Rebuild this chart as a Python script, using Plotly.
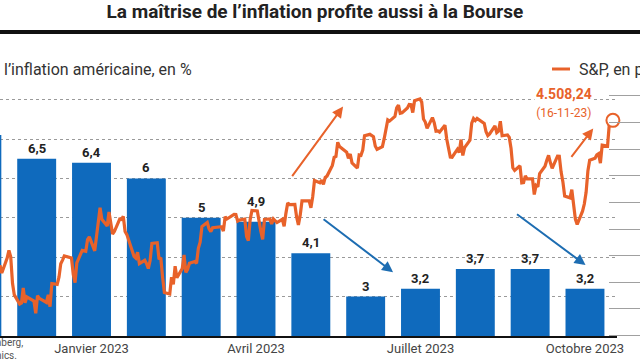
import plotly.graph_objects as go

# ---------------- DATA ----------------
months = ["2022-11", "2022-12", "2023-01", "2023-02", "2023-03", "2023-04",
          "2023-05", "2023-06", "2023-07", "2023-08", "2023-09", "2023-10"]
inflation = [7.1, 6.5, 6.4, 6.0, 5.0, 4.9, 4.1, 3.0, 3.2, 3.7, 3.7, 3.2]

tick_months = ["2023-01", "2023-04", "2023-07", "2023-10"]
tick_labels = ["Janvier 2023", "Avril 2023", "Juillet 2023", "Octobre 2023"]

sp_dates = [
    "2022-12-05", "2022-12-06", "2022-12-07", "2022-12-08", "2022-12-09", "2022-12-12", "2022-12-13",
    "2022-12-14", "2022-12-15", "2022-12-16", "2022-12-19", "2022-12-20", "2022-12-21", "2022-12-22",
    "2022-12-23", "2022-12-27", "2022-12-28", "2022-12-29", "2022-12-30",
    "2023-01-03", "2023-01-04", "2023-01-05", "2023-01-06", "2023-01-09", "2023-01-10", "2023-01-11",
    "2023-01-12", "2023-01-13", "2023-01-17", "2023-01-18", "2023-01-19", "2023-01-20", "2023-01-23",
    "2023-01-24", "2023-01-25", "2023-01-26", "2023-01-27", "2023-01-30", "2023-01-31",
    "2023-02-01", "2023-02-02", "2023-02-03", "2023-02-06", "2023-02-07", "2023-02-08", "2023-02-09",
    "2023-02-10", "2023-02-13", "2023-02-14", "2023-02-15", "2023-02-16", "2023-02-17", "2023-02-21",
    "2023-02-22", "2023-02-23", "2023-02-24", "2023-02-27", "2023-02-28",
    "2023-03-01", "2023-03-02", "2023-03-03", "2023-03-06", "2023-03-07", "2023-03-08", "2023-03-09",
    "2023-03-10", "2023-03-13", "2023-03-14", "2023-03-15", "2023-03-16", "2023-03-17", "2023-03-20",
    "2023-03-21", "2023-03-22", "2023-03-23", "2023-03-24", "2023-03-27", "2023-03-28", "2023-03-29",
    "2023-03-30", "2023-03-31",
    "2023-04-03", "2023-04-04", "2023-04-05", "2023-04-06", "2023-04-10", "2023-04-11", "2023-04-12",
    "2023-04-13", "2023-04-14", "2023-04-17", "2023-04-18", "2023-04-19", "2023-04-20", "2023-04-21",
    "2023-04-24", "2023-04-25", "2023-04-26", "2023-04-27", "2023-04-28",
    "2023-05-01", "2023-05-02", "2023-05-03", "2023-05-04", "2023-05-05", "2023-05-08", "2023-05-09",
    "2023-05-10", "2023-05-11", "2023-05-12", "2023-05-15", "2023-05-16", "2023-05-17", "2023-05-18",
    "2023-05-19", "2023-05-22", "2023-05-23", "2023-05-24", "2023-05-25", "2023-05-26", "2023-05-30",
    "2023-05-31",
    "2023-06-01", "2023-06-02", "2023-06-05", "2023-06-06", "2023-06-07", "2023-06-08", "2023-06-09",
    "2023-06-12", "2023-06-13", "2023-06-14", "2023-06-15", "2023-06-16", "2023-06-20", "2023-06-21",
    "2023-06-22", "2023-06-23", "2023-06-26", "2023-06-27", "2023-06-28", "2023-06-29", "2023-06-30",
    "2023-07-03", "2023-07-05", "2023-07-06", "2023-07-07", "2023-07-10", "2023-07-11", "2023-07-12",
    "2023-07-13", "2023-07-14", "2023-07-17", "2023-07-18", "2023-07-19", "2023-07-20", "2023-07-21",
    "2023-07-24", "2023-07-25", "2023-07-26", "2023-07-27", "2023-07-28", "2023-07-31",
    "2023-08-01", "2023-08-02", "2023-08-03", "2023-08-04", "2023-08-07", "2023-08-08", "2023-08-09",
    "2023-08-10", "2023-08-11", "2023-08-14", "2023-08-15", "2023-08-16", "2023-08-17", "2023-08-18",
    "2023-08-21", "2023-08-22", "2023-08-23", "2023-08-24", "2023-08-25", "2023-08-28", "2023-08-29",
    "2023-08-30", "2023-08-31",
    "2023-09-01", "2023-09-05", "2023-09-06", "2023-09-07", "2023-09-08", "2023-09-11", "2023-09-12",
    "2023-09-13", "2023-09-14", "2023-09-15", "2023-09-18", "2023-09-19", "2023-09-20", "2023-09-21",
    "2023-09-22", "2023-09-25", "2023-09-26", "2023-09-27", "2023-09-28", "2023-09-29",
    "2023-10-02", "2023-10-03", "2023-10-04", "2023-10-05", "2023-10-06", "2023-10-09", "2023-10-10",
    "2023-10-11", "2023-10-12", "2023-10-13", "2023-10-16", "2023-10-17", "2023-10-18", "2023-10-19",
    "2023-10-20", "2023-10-23", "2023-10-24", "2023-10-25", "2023-10-26", "2023-10-27", "2023-10-30",
    "2023-10-31",
    "2023-11-01", "2023-11-02", "2023-11-03", "2023-11-06", "2023-11-07", "2023-11-08", "2023-11-09",
    "2023-11-10", "2023-11-13", "2023-11-14", "2023-11-15", "2023-11-16",
]
sp_close = [
    3998.84, 3941.26, 3933.92, 3963.51, 3934.38, 3990.56, 4019.65,
    3995.32, 3895.75, 3852.36, 3817.66, 3821.62, 3878.44, 3822.39,
    3844.82, 3829.25, 3783.22, 3849.28, 3839.50,
    3824.14, 3852.97, 3808.10, 3895.08, 3892.09, 3919.25, 3969.61,
    3983.17, 3999.09, 3990.97, 3928.86, 3898.85, 3972.61, 4019.81,
    4016.95, 4016.22, 4060.43, 4070.56, 4017.77, 4076.60,
    4119.21, 4179.76, 4136.48, 4111.08, 4164.00, 4117.86, 4081.50,
    4090.46, 4137.29, 4136.13, 4147.60, 4090.41, 4079.09, 3997.34,
    3991.05, 4012.32, 3970.04, 3982.24, 3970.15,
    3951.39, 3981.35, 4045.64, 4048.42, 3986.37, 3992.01, 3918.32,
    3861.59, 3855.76, 3919.29, 3891.93, 3960.28, 3916.64, 3951.57,
    4002.87, 3936.97, 3948.72, 3970.99, 3977.53, 3971.27, 4027.81,
    4050.83, 4109.31,
    4124.51, 4100.60, 4090.38, 4105.02, 4109.11, 4108.94, 4091.95,
    4146.22, 4137.64, 4151.32, 4154.87, 4154.52, 4129.79, 4133.52,
    4137.04, 4071.63, 4055.99, 4135.35, 4169.48,
    4167.87, 4119.58, 4090.75, 4061.22, 4136.25, 4138.12, 4119.17,
    4137.64, 4130.62, 4124.08, 4136.28, 4109.90, 4158.77, 4198.05,
    4191.98, 4192.63, 4145.58, 4115.24, 4151.28, 4205.45, 4205.52,
    4179.83,
    4221.02, 4282.37, 4273.79, 4283.85, 4267.52, 4293.93, 4298.86,
    4338.93, 4369.01, 4372.59, 4425.84, 4409.59, 4388.71, 4365.69,
    4381.89, 4348.33, 4328.82, 4378.41, 4376.86, 4396.44, 4450.38,
    4455.59, 4446.82, 4411.59, 4398.95, 4409.53, 4439.26, 4472.16,
    4510.04, 4505.42, 4522.79, 4554.98, 4565.72, 4534.87, 4536.34,
    4554.64, 4567.46, 4566.75, 4537.41, 4582.23, 4588.96,
    4576.73, 4513.39, 4501.89, 4478.03, 4518.44, 4499.38, 4467.71,
    4468.83, 4464.05, 4489.72, 4437.86, 4404.33, 4370.36, 4369.71,
    4399.77, 4387.55, 4436.01, 4376.31, 4405.71, 4433.31, 4497.63,
    4514.87, 4507.66,
    4515.77, 4496.83, 4465.48, 4451.14, 4457.49, 4487.46, 4461.90,
    4467.44, 4505.10, 4450.32, 4453.53, 4443.95, 4402.20, 4330.00,
    4320.06, 4337.44, 4273.53, 4274.51, 4299.70, 4288.05,
    4288.39, 4229.45, 4263.75, 4258.19, 4308.50, 4335.66, 4358.24,
    4376.95, 4349.61, 4327.78, 4373.63, 4373.20, 4314.60, 4278.00,
    4224.16, 4217.04, 4247.68, 4186.77, 4137.23, 4117.37, 4166.82,
    4193.80,
    4237.86, 4317.78, 4358.34, 4365.98, 4378.38, 4382.78, 4347.35,
    4415.24, 4411.55, 4495.70, 4502.88, 4508.24,
]
assert len(sp_dates) == len(sp_close)

sp_ticks = [3700, 3800, 3900, 4000, 4100, 4200, 4300, 4400, 4500, 4600]
infl_grid = [3, 4, 5, 6, 7, 8]

# ---------------- STYLE ----------------
BLUE = "#0F6ABD"
ORANGE = "#E8622A"
ARROW_BLUE = "#1D6DB2"
FONT = "Roboto"
label_extra_shift = {"2023-04": 10}

W, H = 640, 360
ML, MR, MT, MB = 0, 23, 85, 24
PW, PH = W - ML - MR, H - MT - MB


def px_x(px):
    return (px - ML) / PW


def px_y(py):
    return 1 + (MT - py) / PH


def fr(v, dec=None):
    if dec is None:
        s = ("%g" % v)
    else:
        s = f"{v:,.{dec}f}".replace(",", " ")
    return s.replace(".", ",").replace(" ", ".")


fig = go.Figure()

fig.add_trace(go.Bar(
    x=months, y=inflation, marker=dict(color=BLUE, line=dict(width=0)),
    width=0.71, xaxis="x", yaxis="y", hoverinfo="skip", showlegend=False,
))

fig.add_trace(go.Scatter(
    x=sp_dates, y=sp_close, mode="lines",
    line=dict(color=ORANGE, width=3.2), xaxis="x2", yaxis="y2",
    showlegend=False, hoverinfo="skip",
))

fig.add_trace(go.Scatter(
    x=[sp_dates[-1]], y=[sp_close[-1]], mode="markers",
    marker=dict(size=13, color="white", line=dict(color=ORANGE, width=2)),
    xaxis="x2", yaxis="y2", showlegend=False, hoverinfo="skip", cliponaxis=False,
))

annotations = []
for m, v in zip(months, inflation):
    annotations.append(dict(
        x=m, y=v, xref="x", yref="y", text=f"<b>{fr(v)}</b>", showarrow=False,
        yanchor="bottom", yshift=1 + label_extra_shift.get(m, 0),
        font=dict(family=FONT, size=13, color="#222"),
    ))

# last value label
d = sp_dates[-1]
date_lbl = f"{d[8:10]}-{d[5:7]}-{d[2:4]}"
annotations.append(dict(
    x=sp_dates[-1], y=sp_close[-1], xref="x2", yref="y2",
    text=f"<b>{fr(sp_close[-1], 2)}</b><br><span style='font-size:12px'>({date_lbl})</span>",
    showarrow=False, xshift=-49, yshift=17, yanchor="middle", bgcolor="white",
    font=dict(family=FONT, size=14, color=ORANGE), borderpad=1,
))

# arrows
arrow_specs = [
    dict(x="2023-06-18", y=4560, xref="x2", yref="y2", ax=-52, ay=71, arrowcolor=ORANGE),
    dict(x="2023-11-05", y=4478, xref="x2", yref="y2", ax=-23, ay=30, arrowcolor=ORANGE),
    dict(x=7.5, y=3.62, xref="x", yref="y", ax=-71, ay=-54, arrowcolor=ARROW_BLUE),
    dict(x=11.01, y=3.80, xref="x", yref="y", ax=-70, ay=-52, arrowcolor=ARROW_BLUE),
]
for a in arrow_specs:
    annotations.append(dict(text="", showarrow=True, arrowhead=2, arrowsize=1.1,
                            arrowwidth=2, standoff=0, **a))

# titles / legends
annotations += [
    dict(x=px_x(2), y=px_y(69), xref="paper", yref="paper", xanchor="left", yanchor="middle",
         text="l’inflation américaine, en %",
         showarrow=False, font=dict(family=FONT, size=16, color="#333")),
    dict(x=px_x(577), y=px_y(69), xref="paper", yref="paper", xanchor="left", yanchor="middle",
         text="S&P, en points", showarrow=False, font=dict(family=FONT, size=16, color="#333")),
    dict(x=px_x(25), y=px_y(349), xref="paper", yref="paper", xanchor="right", yanchor="middle",
         align="left", text="Sources : Bloomberg,<br>Trading Economics.", showarrow=False,
         font=dict(family=FONT, size=10, color="#555")),
]

shapes = [
    dict(type="line", xref="paper", yref="paper", x0=px_x(0), x1=px_x(640),
         y0=px_y(32), y1=px_y(32), line=dict(color="#111", width=4)),
    dict(type="line", xref="paper", yref="paper", x0=px_x(552), x1=px_x(570),
         y0=px_y(69), y1=px_y(69), line=dict(color=ORANGE, width=3)),
]

fig.update_layout(
    width=W, height=H, margin=dict(l=ML, r=MR, t=MT, b=MB),
    paper_bgcolor="white", plot_bgcolor="white",
    title=dict(text="<b>La maîtrise de l’inflation profite aussi à la Bourse</b>",
               x=0.492, xref="container", xanchor="center",
               y=1 - 11 / H, yref="container", yanchor="middle",
               font=dict(family=FONT, size=19, color="#222")),
    bargap=0.29,
    xaxis=dict(type="category", categoryorder="array", categoryarray=months,
               range=[0.331, 11.584], showline=True, linecolor="#111", linewidth=1.5,
               ticks="", tickmode="array", tickvals=tick_months, ticktext=tick_labels,
               tickfont=dict(family=FONT, size=13, color="#444"), showgrid=False,
               fixedrange=True),
    xaxis2=dict(type="date", overlaying="x", range=["2022-12-08", "2023-11-18 07:00"],
                visible=False, fixedrange=True),
    yaxis=dict(range=[2, 2 + PH / 39.4], tickvals=infl_grid, showgrid=True,
               gridcolor="#9a9a9a", griddash="dot", gridwidth=1.2,
               showticklabels=False, zeroline=False, showline=False, fixedrange=True),
    yaxis2=dict(overlaying="y", side="right", anchor="free", position=px_x(608),
                range=[3698, 4641], tickvals=sp_ticks, ticks="outside", ticklen=32,
                tickcolor="#a0a0a0", tickwidth=1.2, showticklabels=False, showgrid=False,
                zeroline=False, showline=False, fixedrange=True),
    annotations=annotations, shapes=shapes, showlegend=False,
)

fig.write_html("out.html", config={"displayModeBar": False},
               post_script="document.body.style.margin='0';document.body.style.overflow='hidden';")
